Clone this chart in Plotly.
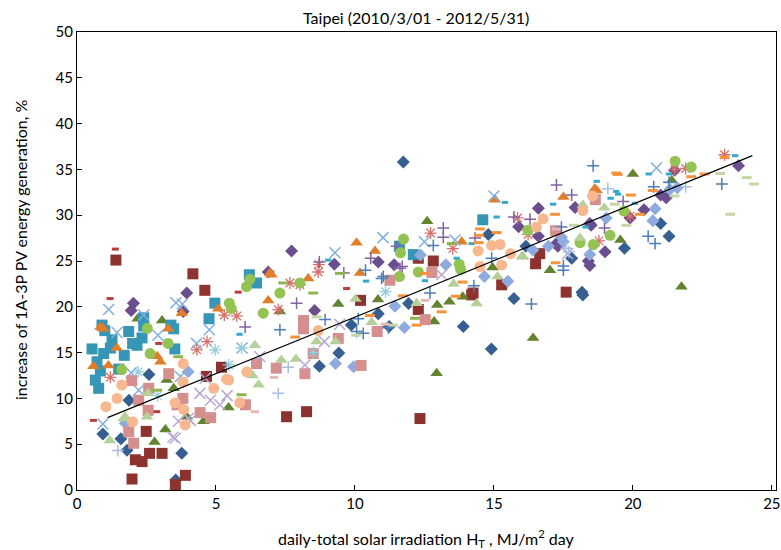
import plotly.graph_objects as go

# ---------------- data ----------------
dkblue_dia_x = [11.74,3.77,3.55,1.80,1.58,0.93,1.87,2.59,9.87,10.84,11.93,11.23,9.42,8.72,13.9,14.91,15.72,18.17,14.8,16.15,17.8,21.0,21.3,19.7,18.2]
dkblue_dia_y = [35.8,4.0,1.1,4.35,5.6,6.1,9.8,12.6,18.0,19.25,20.35,17.85,14.95,13.5,17.85,15.4,20.9,21.6,27.9,26.6,25.3,29.1,27.7,26.4,21.3]

dkred_sq_x = [1.40,4.17,4.60,5.20,4.66,2.49,2.10,2.34,2.61,3.06,1.98,3.90,3.54,7.54,8.26,12.34,10.20,12.28,12.28,12.82,16.50,14.25,15.28,14.20,17.60,16.65]
dkred_sq_y = [25.1,23.6,21.8,13.4,12.4,6.4,3.3,3.1,4.0,4.0,1.2,1.6,0.6,8.0,8.55,7.8,20.7,25.3,19.7,25.0,24.7,21.5,22.4,21.3,21.6,25.8]

olive_tri_x = [2.18,3.06,3.23,3.48,5.45,4.55,3.18,2.79,3.95,7.3,9.4,10.83,12.6,12.85,12.96,13.4,13.88,14.95,16.03,16.41,12.94,17.02,20.0,19.55,21.75,21.4]
olive_tri_y = [18.7,18.5,12.0,11.1,9.0,7.5,6.6,5.25,8.0,19.5,20.3,20.8,29.35,18.4,20.2,20.55,21.1,24.3,25.5,16.6,12.75,24.0,34.5,27.3,22.2,33.8]

purple_dia_x = [2.03,1.95,3.95,3.82,6.88,7.72,9.26,10.84,11.41,8.55,16.6,15.89,17.92,18.45,16.6,17.25,18.4,18.5,17.3,19.0,18.45,20.4,21.2,19.9,21.5,23.8,21.0]
purple_dia_y = [20.4,19.6,21.5,19.5,23.8,26.1,24.65,24.9,24.6,19.6,30.75,28.75,30.85,29.1,27.7,26.9,25.0,28.9,26.6,26.0,24.5,30.6,31.9,29.7,34.9,35.4,32.2]

teal_sq_x = [0.54,0.72,0.84,0.66,0.78,0.96,0.90,1.20,1.26,1.70,1.86,2.16,2.34,2.40,2.40,3.38,3.48,3.52,4.75,4.96,6.20,6.46,12.1,11.6,14.6,1.0,1.5,2.0]
teal_sq_y = [15.4,14.0,13.0,12.0,11.1,14.9,18.0,15.5,16.4,14.7,17.3,15.8,16.6,18.8,17.9,18.0,17.6,15.4,18.7,20.4,23.5,22.6,25.7,26.6,29.5,17.4,13.2,16.0]

orange_tri_x = [0.59,0.84,0.95,1.13,1.43,2.88,3.28,3.77,5.08,6.94,6.88,7.0,8.32,10.06,10.72,10.18,13.84,15.04,17.5,18.63,18.7,3.0]
orange_tri_y = [13.5,17.8,17.6,13.6,15.5,14.6,17.6,19.3,19.8,23.7,20.7,23.5,23.1,27.0,26.1,23.7,27.1,31.7,32.0,32.9,32.7,14.0]

ltblue_x_x = [1.14,1.44,3.56,3.79,2.91,4.76,5.94,2.4,0.93,11.01,9.28,12.5,13.6,15.0,20.85,2.22,3.72,1.95,4.3]
ltblue_x_y = [19.7,17.2,20.45,20.3,16.9,17.5,15.5,19.1,7.2,27.55,25.9,27.1,27.3,32.1,35.15,10.9,12.4,12.8,16.0]

pink_ast_x = [5.3,5.75,4.68,4.31,7.66,7.24,1.2,8.68,8.7,12.72,13.52,15.85,8.02,16.23,18.78,19.9,21.5,21.9,23.3]
pink_ast_y = [19.1,19.0,16.2,15.3,22.6,19.7,12.3,23.8,24.6,28.05,26.35,29.7,22.4,27.9,27.2,29.9,35.0,35.1,36.6]

purple_plus_x = [6.05,7.9,8.72,10.57,11.5,11.7,11.62,13.18,13.18,14.32,15.72,16.3,17.25,17.8,19.65,18.98,9.6]
purple_plus_y = [17.8,20.4,24.9,25.3,26.6,24.4,24.2,28.6,27.6,27.5,29.8,29.55,33.3,32.2,31.5,28.6,23.7]

green_circ_x = [6.22,6.1,5.48,5.55,2.53,3.28,7.3,6.7,8.02,2.63,1.61,11.75,11.64,12.28,11.6,13.75,13.8,16.22,18.1,18.58,19.18,19.68,21.52,22.1]
green_circ_y = [23.0,22.2,20.4,19.8,17.65,16.0,21.5,19.3,22.6,14.9,13.15,27.4,25.9,23.8,23.3,24.65,24.1,28.35,27.0,26.8,27.8,30.45,35.9,35.25]

cyan_dash_x = [15.4,17.13,18.7,14.2,15.1,13.66,19.47,19.2,20.57,21.3,23.68,18.3,19.4,20.07,9.04,10.4,12.52,5.85]
cyan_dash_y = [31.4,31.2,33.7,26.9,29.8,25.3,32.3,31.85,34.5,34.5,36.5,28.7,32.6,31.3,25.1,22.8,22.85,17.0]

orange_dash_x = [17.2,14.47,15.1,14.45,12.48,11.72,13.12,13.63,12.22,10.54,14.5,13.87,19.45,19.93,20.25,20.72,22.1,22.58,23.3,17.22,19.4,7.85]
orange_dash_y = [30.1,27.8,28.1,27.0,23.65,21.2,19.45,21.15,18.0,19.05,28.5,22.7,34.45,32.2,30.1,32.7,34.2,34.5,36.3,24.8,34.6,16.7]

ltblue_dia_x = [11.44,11.78,9.3,9.95,13.27,14.66,15.5,16.4,12.36,16.96,17.43,18.45,4.0,1.74,17.5,19.04,20.8,20.72,21.6,21.33]
ltblue_dia_y = [20.05,17.75,13.8,13.45,24.6,23.3,22.8,26.2,25.65,26.6,27.6,25.7,12.9,7.3,27.1,29.7,30.7,29.4,33.0,32.8]

pink_sq_x = [3.3,1.97,2.58,3.81,3.6,4.43,4.81,6.06,1.86,2.04,2.22,2.56,8.15,8.15,7.17,9.4,10.8,11.26,12.53,6.46,8.2,10.22,8.5,12.77,18.65,17.22]
pink_sq_y = [12.7,11.95,11.1,10.0,9.3,8.45,7.9,9.3,6.35,5.1,9.8,8.7,18.5,17.6,13.3,16.55,17.3,22.9,18.6,13.8,12.7,13.6,14.9,23.75,31.7,28.3]

ltgreen_tri_x = [1.68,2.52,1.18,2.55,6.32,1.73,6.4,6.54,7.88,7.35,10.02,10.6,12.22,14.38,13.55,15.13,8.62,9.3,18.2,18.1,16.03,18.97]
ltgreen_tri_y = [7.8,8.0,5.4,10.55,12.5,8.0,15.8,11.5,14.3,14.2,20.85,18.3,20.4,20.35,22.5,23.3,16.2,16.2,31.1,27.5,25.5,30.8]

lavender_x_x = [3.53,5.14,4.42,4.0,4.8,4.61,4.08,3.45,8.2,9.45,13.12,17.65,6.58,8.9,5.4,3.65]
lavender_x_y = [5.65,9.3,10.55,7.8,9.8,12.2,7.6,5.75,13.65,18.1,23.5,25.8,14.55,16.2,10.3,7.5]

ltcyan_ast_x = [5.46,4.97,5.92,11.1,8.5,2.2,2.9]
ltcyan_ast_y = [13.65,15.3,15.5,21.65,15.0,12.9,10.3]

peach_circ_x = [1.61,1.04,1.44,2.0,3.82,3.82,3.53,3.84,3.89,5.38,5.86,6.11,4.92,5.46,8.68,14.5,14.92,15.22,15.28,15.6,16.77,14.43,16.53,18.2,18.55]
peach_circ_y = [11.45,9.1,10.0,7.45,13.8,11.8,9.5,8.8,7.1,12.1,9.55,12.9,11.1,12.0,17.4,24.4,26.7,26.8,24.55,25.8,29.6,26.1,28.7,30.5,32.1]

blue_plus_x = [12.7,14.28,11.02,11.2,10.06,12.82,10.38,16.35,8.93,10.12,10.3,7.3,10.96,18.57,17.5,17.43,14.92,20.55,20.8,20.75,21.3,23.2,17.5]
blue_plus_y = [21.5,22.3,23.3,17.7,17.3,26.7,24.0,20.3,18.6,18.7,17.1,17.5,23.1,35.4,24.45,28.7,25.3,27.7,26.9,33.1,33.6,33.4,24.0]

ltblue_plus_x = [7.24,1.47,7.6,17.6,19.1,17.7,21.9]
ltblue_plus_y = [10.55,4.3,13.4,26.4,32.9,26.0,33.1]

red_dash_x = [1.38,1.19,0.59,2.87,5.8,2.94,9.7]
red_dash_y = [26.3,20.9,7.6,8.55,21.6,16.0,22.0]

green_dash_x = [7.42,3.64,9.46,8.5,12.16,5.92,13.48,2.88]
green_dash_y = [22.6,14.55,23.65,21.5,18.75,10.4,26.9,10.9]

ltgreen_dash_x = [23.14,24.1,24.36,23.5,21.5,19.77,19.35,17.88,8.62,10.04,11.38]
ltgreen_dash_y = [34.55,34.1,33.4,30.1,32.1,28.9,31.2,28.9,18.9,16.9,18.0]

ltpink_dash_x = [7.09,6.4,11.08,12.52,17.24]
ltpink_dash_y = [12.3,8.55,18.1,20.7,28.5]

trend_x = [1.1, 24.3]
trend_y = [7.9, 36.5]

x_ticks = [0, 5, 10, 15, 20, 25]
y_ticks = [0, 5, 10, 15, 20, 25, 30, 35, 40, 45, 50]

title_text = "Taipei (2010/3/01 - 2012/5/31)"
x_title = "daily-total solar irradiation H<sub>T</sub> , MJ/m<sup>2</sup> day"
y_title = "increase of 1A-3P PV energy generation, %"

# ---------------- styles ----------------
series = [
    (dkblue_dia_x, dkblue_dia_y, "diamond", "#365F91", 10, 0),
    (dkred_sq_x, dkred_sq_y, "square", "#8E3230", 11, 0),
    (olive_tri_x, olive_tri_y, "triangle-up", "#62832F", 11, 0),
    (purple_dia_x, purple_dia_y, "diamond", "#6A4E8E", 10, 0),
    (teal_sq_x, teal_sq_y, "square", "#3596B5", 11, 0),
    (orange_tri_x, orange_tri_y, "triangle-up", "#E27D2A", 11, 0),
    (ltblue_x_x, ltblue_x_y, "x-thin-open", "#83AEE0", 11, 1.5),
    (pink_ast_x, pink_ast_y, "asterisk-open", "#D9706B", 10, 1.3),
    (purple_plus_x, purple_plus_y, "cross-thin-open", "#8064A2", 8.5, 1.5),
    (green_circ_x, green_circ_y, "circle", "#92C353", 11, 0),
    (ltblue_dia_x, ltblue_dia_y, "diamond", "#8FAADC", 10, 0),
    (pink_sq_x, pink_sq_y, "square", "#D58F8F", 11, 0),
    (ltgreen_tri_x, ltgreen_tri_y, "triangle-up", "#B5D199", 11, 0),
    (lavender_x_x, lavender_x_y, "x-thin-open", "#B8A7D3", 11, 1.5),
    (ltcyan_ast_x, ltcyan_ast_y, "asterisk-open", "#92CDDC", 10, 1.3),
    (peach_circ_x, peach_circ_y, "circle", "#F8B88F", 11, 0),
    (blue_plus_x, blue_plus_y, "cross-thin-open", "#4A7EBB", 8.5, 1.5),
    (ltblue_plus_x, ltblue_plus_y, "cross-thin-open", "#A7BFE4", 8.5, 1.5),
    (red_dash_x, red_dash_y, "line-ew-open", "#B7403D", 5, 3),
    (green_dash_x, green_dash_y, "line-ew-open", "#8FB34E", 7, 3),
    (ltgreen_dash_x, ltgreen_dash_y, "line-ew-open", "#C4D7A5", 7, 3),
    (ltpink_dash_x, ltpink_dash_y, "line-ew-open", "#E6B9B8", 6, 3),
    (cyan_dash_x, cyan_dash_y, "line-ew-open", "#33AACC", 4.5, 3),
    (orange_dash_x, orange_dash_y, "line-ew-open", "#F7923A", 7, 3),
]

FONT = "Lato, 'Open Sans', sans-serif"
W, H = 781, 550
ML, MR, MT, MB = 77, 5, 32, 60

fig = go.Figure()
for xs, ys, sym, col, size, lw in series:
    if lw > 0:
        marker = dict(symbol=sym, size=size, color=col, line=dict(color=col, width=lw))
    else:
        marker = dict(symbol=sym, size=size, color=col, line=dict(width=0))
    fig.add_trace(go.Scatter(x=xs, y=ys, mode="markers", marker=marker,
                             showlegend=False, hoverinfo="x+y"))

fig.add_trace(go.Scatter(x=trend_x, y=trend_y, mode="lines",
                         line=dict(color="black", width=1.2),
                         showlegend=False, hoverinfo="skip"))

pw = W - ML - MR
ph = H - MT - MB

fig.update_layout(
    width=W, height=H,
    margin=dict(l=ML, r=MR, t=MT, b=MB, autoexpand=False),
    paper_bgcolor="white", plot_bgcolor="white",
    hovermode=False,
    font=dict(family=FONT, size=15, color="black"),
    annotations=[
        dict(text=title_text, xref="paper", yref="paper",
             x=(416 - ML) / pw, y=(H - MB - 17) / ph,
             xanchor="center", yanchor="middle", showarrow=False,
             font=dict(family=FONT, size=16, color="black")),
        dict(text=x_title, xref="paper", yref="paper",
             x=(426 - ML) / pw, y=-(538 - (H - MB)) / ph,
             xanchor="center", yanchor="middle", showarrow=False,
             font=dict(family=FONT, size=16, color="black")),
        dict(text=y_title, xref="paper", yref="paper",
             x=-(ML - 20) / pw, y=(H - MB - 250) / ph, textangle=-90,
             xanchor="center", yanchor="middle", showarrow=False,
             font=dict(family=FONT, size=16, color="black")),
    ],
)
fig.update_xaxes(range=[0, 25.15], tickvals=x_ticks, ticktext=[str(v) for v in x_ticks],
                 automargin=False,
                 showgrid=False, zeroline=False, showline=True, linecolor="black",
                 linewidth=1, mirror=True, ticks="inside", ticklen=5, tickcolor="black",
                 tickfont=dict(family=FONT, size=15))
fig.update_yaxes(range=[0, 50], tickvals=y_ticks, ticktext=[str(v) for v in y_ticks],
                 automargin=False,
                 showgrid=False, zeroline=False, showline=True, linecolor="black",
                 linewidth=1, mirror=True, ticks="inside", ticklen=5, tickcolor="black",
                 tickfont=dict(family=FONT, size=15))

fig.write_html("out.html", config={"displayModeBar": False},
               post_script="document.body.style.margin='0';document.body.style.overflow='hidden';")
